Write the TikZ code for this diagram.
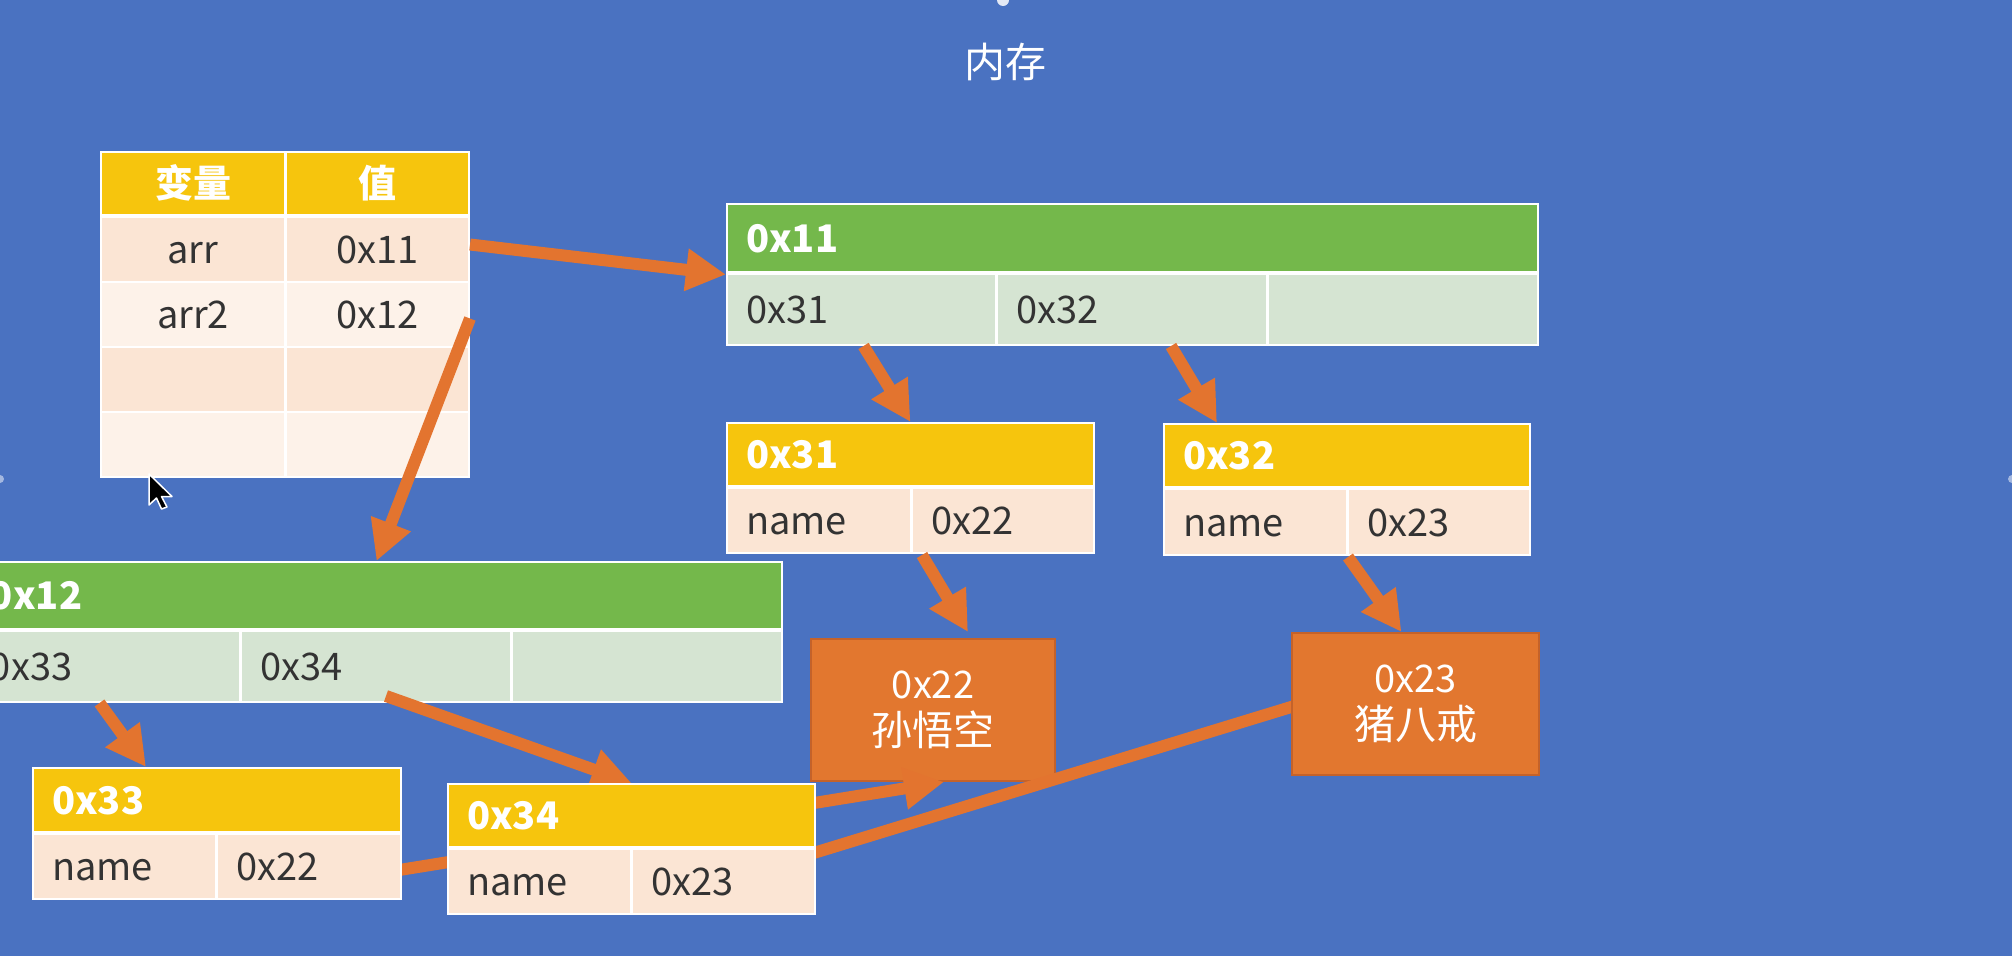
\documentclass[tikz,border=0pt]{standalone}
\usepackage{fontspec}
\setmainfont{Noto Sans CJK SC}
\usetikzlibrary{arrows.meta,calc}
\pgfdeclarelayer{front}
\pgfsetlayers{main,front}

\definecolor{slide}{HTML}{4A72C1}
\definecolor{hgreen}{HTML}{74B84B}
\definecolor{lgreen}{HTML}{D5E4D2}
\definecolor{hyellow}{HTML}{F6C50D}
\definecolor{peachA}{HTML}{FBE5D4}
\definecolor{peachB}{HTML}{FDF2E9}
\definecolor{objfill}{HTML}{E2772F}
\definecolor{objedge}{HTML}{C4622A}
\definecolor{arrowc}{HTML}{E3742F}
\definecolor{ink}{HTML}{333333}

\newcommand\cellfont{\fontsize{38}{46}\selectfont}
\newcommand\bigcjk{\fontsize{41}{47}\selectfont}

\begin{document}
\begin{tikzpicture}[x=1pt,y=-1pt,
  every node/.style={inner sep=0pt, outer sep=0pt},
  memframe/.style 2 args={fill=white, anchor=north west,
    minimum width=#1, minimum height=#2},
  cellL/.style 2 args={anchor=north west, minimum width=#1, minimum height=#2,
    inner xsep=18pt, text width=#1-36pt, align=left, font=\cellfont,
    text height=28pt, text depth=0pt, text=ink},
  cellC/.style 2 args={anchor=north west, minimum width=#1, minimum height=#2,
    align=center, font=\cellfont, text height=28pt, text depth=0pt, text=ink},
  hdrL/.style 2 args={cellL={#1}{#2}, font=\cellfont\bfseries, text=white},
  hdrC/.style 2 args={cellC={#1}{#2}, font=\cellfont\bfseries, text=white},
  objbox/.style 2 args={anchor=north west, minimum width=#1, minimum height=#2,
    fill=objfill, draw=objedge, line width=2pt, align=center, text=white,
    font=\fontsize{38}{47}\selectfont},
  ptr/.style={draw=arrowc, line width=12pt,
    -{Triangle[length=40pt,width=40pt]}}]

\useasboundingbox (0,0) rectangle (2012,956);
\clip (0,0) rectangle (2012,956);
\fill[slide] (0,0) rectangle (2012,956);

% slide handles
\fill[white, opacity=0.85] (1003,0) circle (6);
\fill[white, opacity=0.5] (0,479) circle (4);
\fill[white, opacity=0.5] (2012,479) circle (4);

% title
\node[font=\bigcjk, text=white] (ttl) at (1005,62) {内存};

% variable table
\node[memframe={370}{327}] (tb) at (100,151) {};
\node[hdrC={182}{61}, fill=hyellow] (th1) at (102,153) {变量};
\node[hdrC={181}{61}, fill=hyellow] (th2) at (287,153) {值};
\node[cellC={182}{63}, fill=peachA] (tk1) at (102,218) {arr};
\node[cellC={181}{63}, fill=peachA] (tv1) at (287,218) {0x11};
\node[cellC={182}{63}, fill=peachB] (tk2) at (102,283) {arr2};
\node[cellC={181}{63}, fill=peachB] (tv2) at (287,283) {0x12};
\node[cellC={182}{63}, fill=peachA] (tk3) at (102,348) {};
\node[cellC={181}{63}, fill=peachA] (tv3) at (287,348) {};
\node[cellC={182}{63}, fill=peachB] (tk4) at (102,413) {};
\node[cellC={181}{63}, fill=peachB] (tv4) at (287,413) {};

% array 0x11
\node[memframe={813}{143}] (b11) at (726,203) {};
\node[hdrL={809}{66}, fill=hgreen] (b11h) at (728,205) {0x11};
\node[cellL={267}{69}, fill=lgreen] (b11a) at (728,275) {0x31};
\node[cellL={268}{69}, fill=lgreen] (b11b) at (998,275) {0x32};
\node[cellL={268}{69}, fill=lgreen] (b11c) at (1269,275) {};

% array 0x12 (runs past the left edge)
\node[memframe={813}{142}] (b12) at (-30,561) {};
\node[hdrL={809}{65}, fill=hgreen] (b12h) at (-28,563) {0x12};
\node[cellL={267}{69}, fill=lgreen] (b12a) at (-28,632) {0x33};
\node[cellL={268}{69}, fill=lgreen] (b12b) at (242,632) {0x34};
\node[cellL={268}{69}, fill=lgreen] (b12c) at (513,632) {};

% object 0x31
\node[memframe={369}{132}] (b31) at (726,422) {};
\node[hdrL={365}{61}, fill=hyellow] (b31h) at (728,424) {0x31};
\node[cellL={182}{63}, fill=peachA] (b31a) at (728,489) {name};
\node[cellL={180}{63}, fill=peachA] (b31b) at (913,489) {0x22};

% object 0x32
\node[memframe={368}{133}] (b32) at (1163,423) {};
\node[hdrL={364}{61}, fill=hyellow] (b32h) at (1165,425) {0x32};
\node[cellL={181}{64}, fill=peachA] (b32a) at (1165,490) {name};
\node[cellL={180}{64}, fill=peachA] (b32b) at (1349,490) {0x23};

% string 0x22
\node[objbox={244}{142}] (sun) at (811,639) {0x22\\{\bigcjk 孙悟空}};

\begin{pgfonlayer}{front}
  % object 0x33
  \node[memframe={370}{133}] (b33) at (32,767) {};
  \node[hdrL={366}{62}, fill=hyellow] (b33h) at (34,769) {0x33};
  \node[cellL={181}{63}, fill=peachA] (b33a) at (34,835) {name};
  \node[cellL={182}{63}, fill=peachA] (b33b) at (218,835) {0x22};
  % object 0x34
  \node[memframe={369}{132}] (b34) at (447,783) {};
  \node[hdrL={365}{61}, fill=hyellow] (b34h) at (449,785) {0x34};
  \node[cellL={181}{63}, fill=peachA] (b34a) at (449,850) {name};
  \node[cellL={181}{63}, fill=peachA] (b34b) at (633,850) {0x23};
  % string 0x23
  \node[objbox={247}{142}] (zhu) at (1292,633) {0x23\\{\bigcjk 猪八戒}};
\end{pgfonlayer}

% references
\draw[ptr] ($(tv1.east)+(2,-5)$) -- (b11.west);
\draw[ptr] ($(tv2.east)+(2,4)$) -- (b12.north);
\draw[ptr] ($(b11a.south)+(2,2)$) -- (b31.north);
\draw[ptr] ($(b11b.south)+(39,2)$) -- ($(b32.north west)+(54,0)$);
\draw[ptr] ($(b31b.south west)+(9,3)$) -- ($(sun.north)+(35,-7)$);
\draw[ptr] ($(b32b.south west)+(-1,3)$) -- ($(zhu.north)+(-14,-1)$);
\draw[ptr] ($(b12a.south)+(-6,2)$) -- ($(b33.north west)+(114,0)$);
\draw[ptr] ($(b12b.south)+(10,-5)$) -- (b34.north);
\draw[ptr] ($(b33b.east)+(-10,5)$) -- ($(sun.south)+(11,1)$);
\draw[ptr] ($(b34b.east)+(-2,-28)$) -- ($(zhu.west)+(58,-15)$);

% mouse pointer
\filldraw[fill=black, draw=white, line width=1.5pt, line join=round,
  shift={(149,474)}]
  (0,0) -- (0,31) -- (7.5,24) -- (12.5,35) -- (18,33) -- (12.5,22.5)
  -- (23,22.5) -- cycle;

\end{tikzpicture}
\end{document}
